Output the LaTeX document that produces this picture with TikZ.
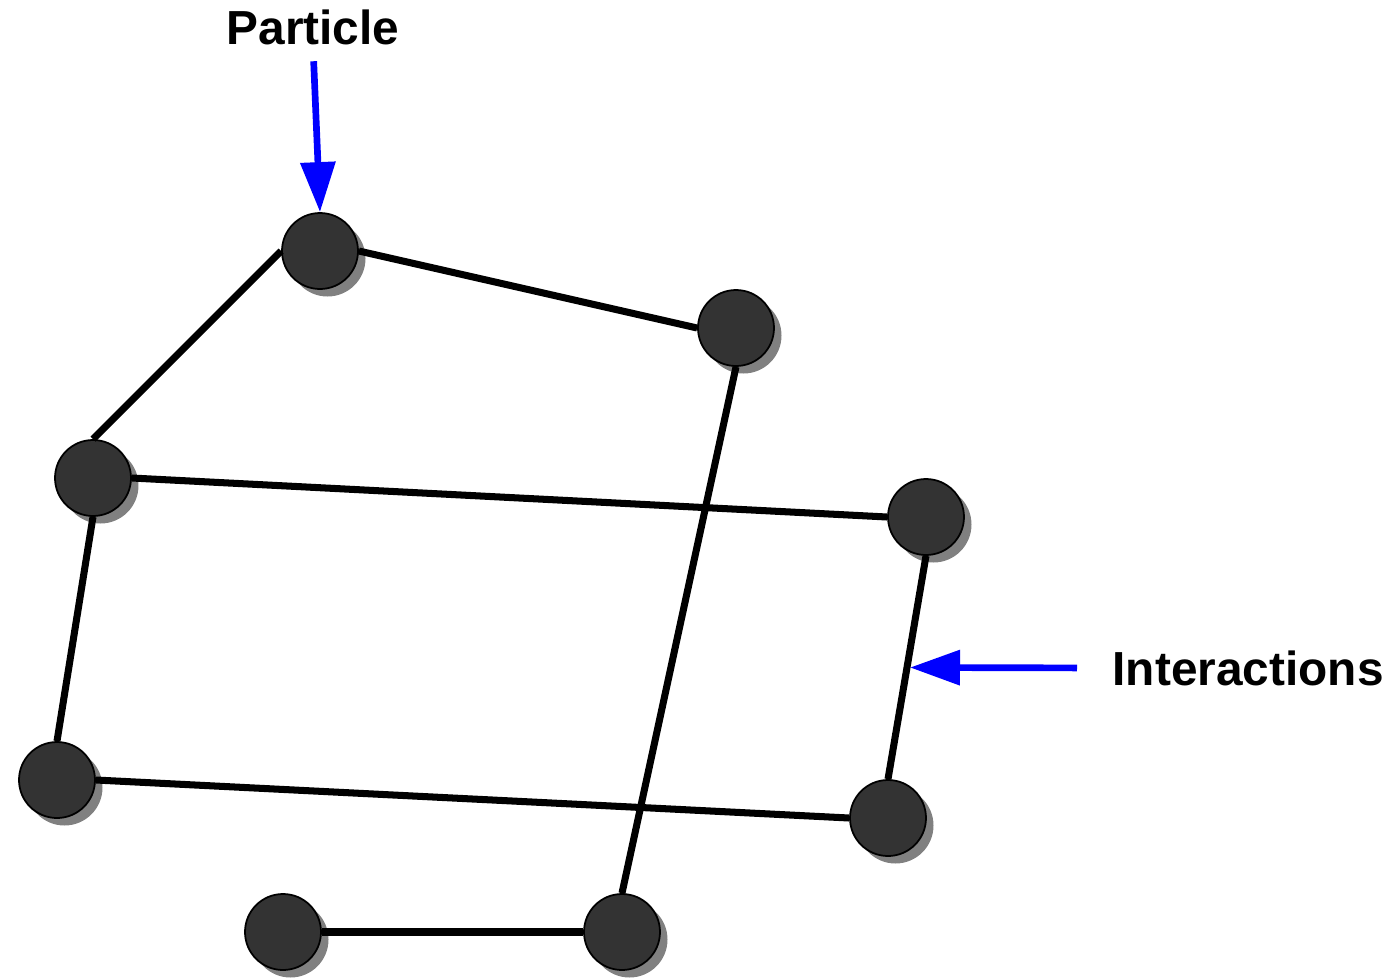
\documentclass[tikz,border=0pt]{standalone}
\usepackage{fontspec}
\setmainfont{Liberation Sans}
\usepackage{xcolor}
\usepackage{tikz}
\usetikzlibrary{arrows.meta, shadows, calc}

\definecolor{balldark}{HTML}{333333}

\begin{document}
\begin{tikzpicture}[
        ball/.style={circle, draw=black, line width=0.5pt, fill=balldark,
                     minimum size=0.76cm, inner sep=0pt,
                     drop shadow={shadow xshift=0.075cm, shadow yshift=-0.075cm,
                                  fill=black!50, opacity=1}},
        link/.style={line width=2pt},
        lbl/.style={font=\fontsize{13.6}{16}\selectfont\bfseries, inner sep=0pt},
        ptr/.style={-{Triangle[length=0.5cm, width=0.34cm]}, blue, line width=1.9pt}
    ]
        \useasboundingbox (0,0) rectangle (13.96,-9.78);
        \node[ball] (p1) at (3.20,-2.51) {};
        \node[ball] (p2) at (7.36,-3.28) {};
        \node[ball] (p3) at (0.93,-4.78) {};
        \node[ball] (p4) at (9.26,-5.17) {};
        \node[ball] (p5) at (0.57,-7.80) {};
        \node[ball] (p6) at (8.88,-8.18) {};
        \node[ball] (p7) at (2.83,-9.32) {};
        \node[ball] (p8) at (6.22,-9.32) {};
        \draw[link] (p1.east)--(p2.west);
        \draw[link] (p1.west)--(p3.north);
        \draw[link] (p2.south)--(p8.north);
        \draw[link] (p3.east)--(p4.west);
        \draw[link] (p3.south)--(p5.north);
        \draw[link] (p4.south)--(p6.north);
        \draw[link] (p5.east)--(p6.west);
        \draw[link] (p7.east)--(p8.west);
        \node[lbl] (part) at (3.13,-0.27) {Particle};
        \node[lbl, anchor=west] (inter) at (11.12,-6.68) {Interactions};
        \coordinate (hit) at ($(p4.south)!0.5!(p6.north)+(0.03,0)$);
        \draw[ptr, shorten <=0.16cm] (part.south)--(p1.north);
        \draw[ptr, shorten <=0.35cm] (inter.west)--(hit);
    \end{tikzpicture}
\end{document}
